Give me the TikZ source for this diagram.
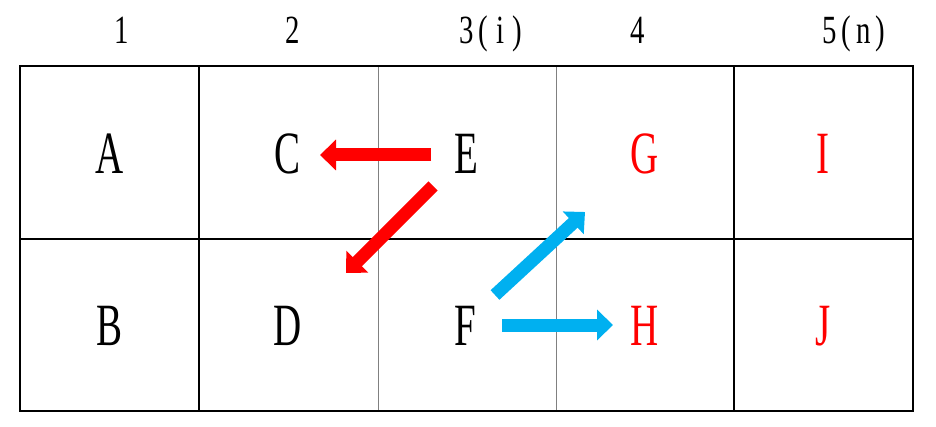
\documentclass[tikz,border=0pt]{standalone}
\usepackage{fontspec}
\setmainfont{Liberation Serif}
\newfontfamily\cond[FakeStretch=0.65]{Liberation Serif}
\newfontfamily\hcond[FakeStretch=0.72]{Liberation Serif}
\newcommand\mch[1]{\makebox[17pt]{#1}}
\usetikzlibrary{arrows.meta}
\definecolor{myblue}{HTML}{00B0F0}
\definecolor{myred}{HTML}{FF0000}
\begin{document}
\begin{tikzpicture}[x=1pt,y=-1pt,
  cell/.style={anchor=base,inner sep=0pt,font=\cond\fontsize{60}{60}\selectfont},
  head/.style={anchor=base,inner sep=0pt,font=\hcond\fontsize{40}{40}\selectfont},
  bigarrow/.style={line width=13pt,-{Triangle[length=16pt,width=30pt]}},
  gridblack/.style={black,line width=1.5pt},
  gridgray/.style={gray,line width=1pt}]
\useasboundingbox (0,0) rectangle (936,427);
% grid
\draw[gridgray] (378,66) -- (378,411);
\draw[gridgray] (556,66) -- (556,411);
\draw[gridblack] (199,66) -- (199,411);
\draw[gridblack] (734,66) -- (734,411);
\draw[black,line width=2pt] (20,239) -- (913,239);
\draw[gridblack] (20,66) rectangle (913,411);
% headers
\node[head] (h1) at (122,44) {1};
\node[head] (h2) at (293,44) {2};
\node[head] (h3) at (492,44) {\mch{3}\mch{(}\mch{i}\mch{)}};
\node[head] (h4) at (638,44) {4};
\node[head] (h5) at (855,44) {\mch{5}\mch{(}\mch{n}\mch{)}};
% cells
\node[cell] (A) at (110,174) {A};
\node[cell] (B) at (110,345) {B};
\node[cell] (C) at (288,174) {C};
\node[cell] (D) at (288,345) {D};
\node[cell] (E) at (466,174) {E};
\node[cell] (F) at (465,345) {F};
\node[cell,text=myred] (G) at (645,174) {G};
\node[cell,text=myred] (H) at (645,345) {H};
\node[cell,text=myred] (I) at (823,174) {I};
\node[cell,text=myred] (J) at (823,345) {J};
% arrow ends
\coordinate (e1) at (431,155);
\coordinate (c1) at (320,155);
\coordinate (e2) at (433,186);
\coordinate (d1) at (346,273);
\coordinate (f1) at (495,295);
\coordinate (g1) at (585,212);
\coordinate (f2) at (502,325);
\coordinate (h1e) at (613,325);
\draw[bigarrow,myred] (e1) -- (c1);
\draw[bigarrow,myred] (e2) -- (d1);
\draw[bigarrow,myblue] (f1) -- (g1);
\draw[bigarrow,myblue] (f2) -- (h1e);
\end{tikzpicture}
\end{document}
